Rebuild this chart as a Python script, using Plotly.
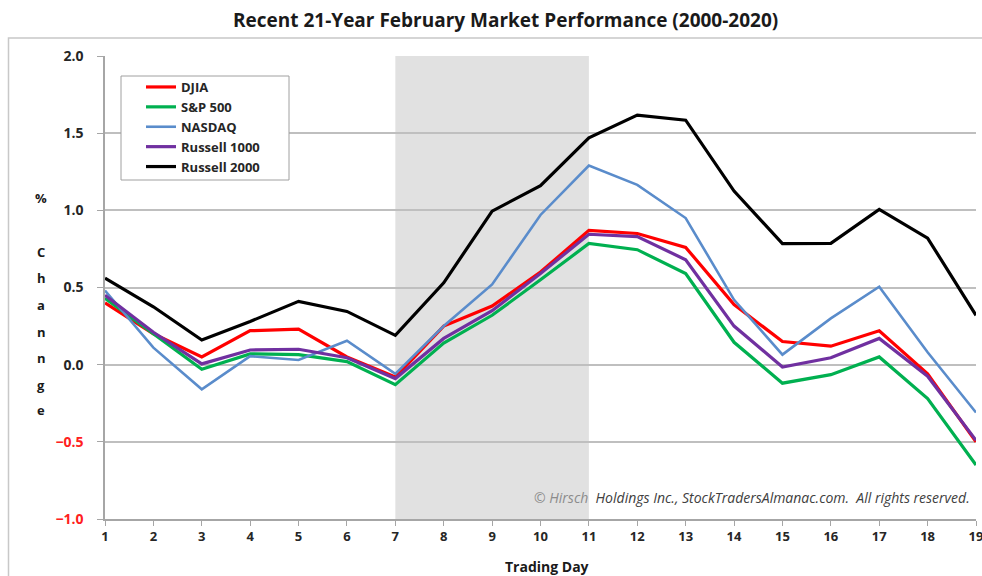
import plotly.graph_objects as go

# ---------------- data ----------------
days = list(range(1, 20))
djia = [0.40, 0.20, 0.05, 0.22, 0.23, 0.05, -0.08, 0.25, 0.38, 0.60, 0.87, 0.85, 0.76, 0.39, 0.15, 0.12, 0.22, -0.06, -0.50]
sp500 = [0.43, 0.20, -0.03, 0.07, 0.065, 0.02, -0.13, 0.14, 0.32, 0.55, 0.785, 0.745, 0.59, 0.145, -0.12, -0.065, 0.05, -0.22, -0.65]
nasdaq = [0.48, 0.11, -0.16, 0.055, 0.03, 0.155, -0.06, 0.25, 0.52, 0.97, 1.29, 1.165, 0.95, 0.42, 0.065, 0.30, 0.505, 0.08, -0.31]
russell1000 = [0.45, 0.21, 0.005, 0.095, 0.10, 0.045, -0.09, 0.17, 0.35, 0.59, 0.845, 0.83, 0.68, 0.25, -0.015, 0.045, 0.17, -0.075, -0.49]
russell2000 = [0.56, 0.375, 0.16, 0.28, 0.41, 0.345, 0.19, 0.53, 0.995, 1.16, 1.47, 1.617, 1.584, 1.125, 0.784, 0.786, 1.006, 0.82, 0.32]

series_names = ["DJIA", "S&P 500", "NASDAQ", "Russell 1000", "Russell 2000"]
highlight_start, highlight_end = 7, 11
y_tick_vals = [-1.0, -0.5, 0.0, 0.5, 1.0, 1.5, 2.0]
y_tick_labels = ["\u22121.0", "\u22120.5", "0.0", "0.5", "1.0", "1.5", "2.0"]

# ---------------- styling ----------------
W_FIG, H_FIG = 982, 576
L, R, T, B = 105, 976, 56, 519
PW, PH = R - L, B - T
FONT = "Open Sans"

def px(x):
    return (x - L) / PW

def py(y):
    return (B - y) / PH

colors = ["#ff0000", "#00b050", "#5a8ccb", "#7030a0", "#000000"]
widths = [3.2, 3.2, 2.6, 3.2, 3.2]
values = [djia, sp500, nasdaq, russell1000, russell2000]

fig = go.Figure()
for name, vals, c, w in zip(series_names, values, colors, widths):
    fig.add_trace(go.Scatter(x=days, y=vals, mode="lines", name=name,
                             line=dict(color=c, width=w)))

ticktext = []
for v, t in zip(y_tick_vals, y_tick_labels):
    if v < 0:
        ticktext.append('<span style="color:#ff2020">%s</span>' % t)
    else:
        ticktext.append(t)

fig.update_layout(
    width=W_FIG, height=H_FIG,
    margin=dict(l=L, r=W_FIG - R, t=T, b=H_FIG - B, autoexpand=False),
    paper_bgcolor="white", plot_bgcolor="white",
    font=dict(family=FONT, color="#262626"),
    showlegend=True,
    legend=dict(x=px(141), y=py(72), xanchor="left", yanchor="top",
                bgcolor="rgba(0,0,0,0)", borderwidth=0,
                font=dict(family=FONT, size=13, color="#262626", weight="bold"),
                tracegroupgap=0, itemwidth=30, traceorder="normal"),
    xaxis=dict(range=[1, 19], tickvals=days, ticktext=[str(d) for d in days],
               showgrid=False, zeroline=False, showline=True, linecolor="#a6a6a6",
               linewidth=1.5, ticks="outside", ticklen=5, tickcolor="#a6a6a6",
               ticklabeloverflow="allow",
               tickfont=dict(family=FONT, size=13, color="#262626", weight="bold")),
    yaxis=dict(range=[-1, 2], tickvals=y_tick_vals, ticktext=ticktext,
               showgrid=True, gridcolor="#bfbfbf", gridwidth=1.5, zeroline=False,
               showline=True, linecolor="#a6a6a6", linewidth=1.5,
               ticks="outside", ticklen=6, tickcolor="#a6a6a6",
               ticklabelstandoff=11,
               tickfont=dict(family=FONT, size=14, color="#262626", weight="bold")),
)

# shaded period
fig.add_shape(type="rect", xref="x", yref="y", x0=highlight_start, x1=highlight_end,
              y0=-1, y1=2, fillcolor="#e1e1e1", line=dict(width=0), layer="below")

# legend box
fig.add_shape(type="rect", xref="paper", yref="paper", x0=px(121), x1=px(289),
              y0=py(180), y1=py(76), line=dict(color="#a0a0a0", width=1),
              fillcolor="white", layer="above")

# outer chart border
fig.add_shape(type="rect", xref="paper", yref="paper", x0=px(8.5), x1=px(1000),
              y0=py(600), y1=py(38), line=dict(color="#c8c8c8", width=1.5),
              fillcolor="rgba(0,0,0,0)", layer="above")

# title
fig.add_annotation(xref="paper", yref="paper", x=px(505), y=py(20), showarrow=False,
                   text="Recent 21-Year February Market Performance (2000-2020)",
                   font=dict(family=FONT, size=19, color="#1a1a1a", weight="bold"),
                   xanchor="center", yanchor="middle")

# x-axis title
fig.add_annotation(xref="paper", yref="paper", x=px(547), y=py(566), showarrow=False,
                   text="Trading Day",
                   font=dict(family=FONT, size=14, color="#1a1a1a", weight="bold"),
                   xanchor="center", yanchor="middle")

# y-axis title (stacked letters)
letters = ["%", "C", "h", "a", "n", "n", "g", "e"]
letter_ys = [198, 252, 278, 305, 332, 358, 385, 410]
for ch, yy in zip(letters, letter_ys):
    fig.add_annotation(xref="paper", yref="paper", x=px(41), y=py(yy), showarrow=False,
                       text=ch, font=dict(family=FONT, size=13, color="#1a1a1a", weight="bold"),
                       xanchor="center", yanchor="middle")

# copyright
fig.add_annotation(xref="paper", yref="paper", x=px(972), y=py(497), showarrow=False,
                   text='<span style="color:#8c8c8c">\u00a9 Hirsch</span>  Holdings Inc., StockTradersAlmanac.com.  All rights reserved.',
                   font=dict(family=FONT, size=14, color="#404040", style="italic"),
                   xanchor="right", yanchor="middle")

fig.write_html("out.html", config={"displayModeBar": False},
               post_script="document.body.style.margin='0';document.body.style.padding='0';")
